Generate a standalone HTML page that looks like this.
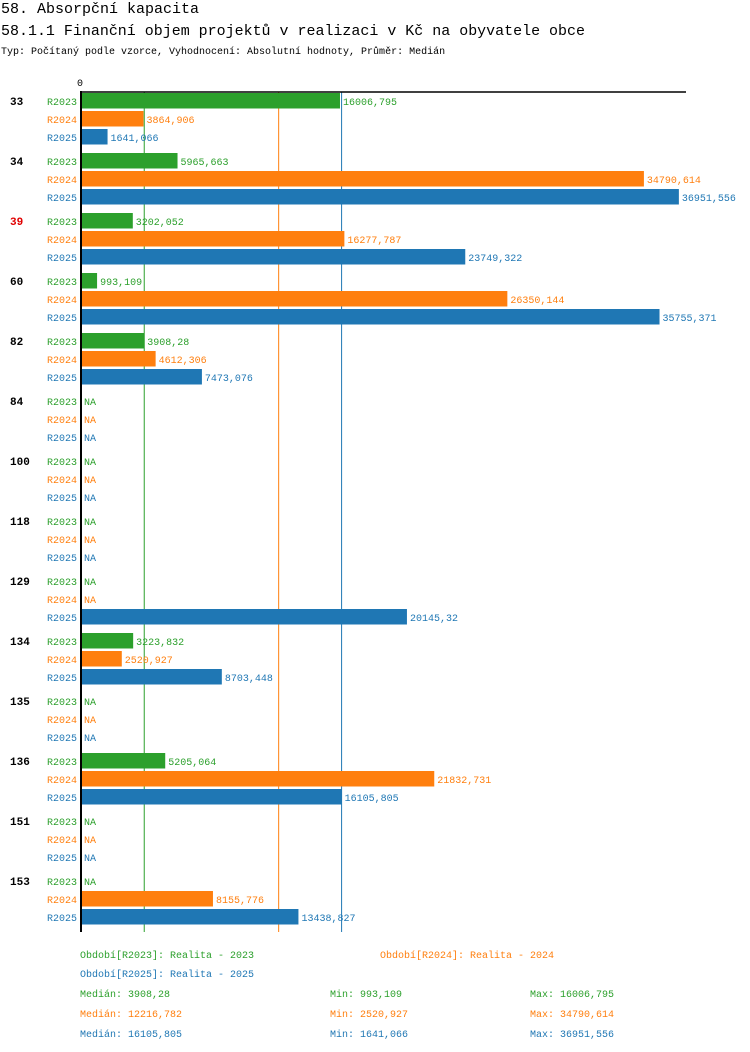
<!DOCTYPE html>
<html><head><meta charset="utf-8"><style>
body{margin:0;background:#fff;width:750px;height:1052px;overflow:hidden}
svg{display:block;font-family:"Liberation Mono","DejaVu Sans Mono",monospace}
</style></head><body>
<svg id="c" width="750" height="1052" xmlns="http://www.w3.org/2000/svg">
<text x="1" y="13" font-size="15">58. Absorpční kapacita</text>
<text x="1" y="35" font-size="15" textLength="584" lengthAdjust="spacingAndGlyphs">58.1.1 Finanční objem projektů v realizaci v Kč na obyvatele obce</text>
<text x="1" y="54" font-size="10">Typ: Počítaný podle vzorce, Vyhodnocení: Absolutní hodnoty, Průměr: Medián</text>
<text x="77" y="86" font-size="10">0</text>
<g id="plot"></g>
</svg>
<script>
const groups=["33","34","39","60","82","84","100","118","129","134","135","136","151","153"];
const seriesNames=["R2023","R2024","R2025"];
const r2023=[16006.795,5965.663,3202.052,993.109,3908.28,null,null,null,null,3223.832,null,5205.064,null,null];
const r2024=[3864.906,34790.614,16277.787,26350.144,4612.306,null,null,null,null,2520.927,null,21832.731,null,8155.776];
const r2025=[1641.066,36951.556,23749.322,35755.371,7473.076,null,null,null,20145.32,8703.448,null,16105.805,null,13438.827];
const medians=[3908.28,12216.782,16105.805];
const mins=[993.109,2520.927,1641.066];
const maxs=[16006.795,34790.614,36951.556];
const legendLabels=["Období[R2023]: Realita - 2023","Období[R2024]: Realita - 2024","Období[R2025]: Realita - 2025"];
const colors=["#2ca02c","#ff7f0e","#1f77b4"];
const NS="http://www.w3.org/2000/svg";
const plot=document.getElementById('plot');
const x=v=>81+v*0.01618;
const gy=i=>92+i*60;
const fmt=v=>String(v).replace('.',',');
function mk(tag,attrs,txt){const e=document.createElementNS(NS,tag);for(const k in attrs)e.setAttribute(k,attrs[k]);if(txt!=null)e.textContent=txt;plot.appendChild(e);return e;}
const series=[r2023,r2024,r2025];
medians.forEach((m,s)=>{const l=mk('line',{x1:x(m),x2:x(m),y1:92,y2:932,stroke:colors[s],'stroke-width':1});

});
groups.forEach((g,i)=>{
  const t=mk('text',{x:10,y:gy(i)+13,'font-size':11,'font-weight':'bold',fill:g==="39"?"#e00000":"#000"},g);
  
  
  series.forEach((arr,s)=>{
    const y=gy(i)+1+s*18;
    const lab=mk('text',{x:77,y:y+12,'font-size':10,'text-anchor':'end',fill:colors[s]},seriesNames[s]);
    
    
    const v=arr[i];
    if(v==null){
      const na=mk('text',{x:84,y:y+12,'font-size':10,fill:colors[s]},'NA');
      
      
    }else{
      const b=mk('rect',{x:81,y:y,width:x(v)-81,height:15.5,fill:colors[s]});
      
      
      const vl=mk('text',{x:x(v)+3,y:y+12,'font-size':10,fill:colors[s]},fmt(v));
      
      
    }
  });
});
const ax=mk('line',{x1:81,x2:81,y1:91,y2:932,stroke:'#000','stroke-width':2});


const tx=mk('line',{x1:80,x2:686,y1:92,y2:92,stroke:'#000','stroke-width':1.5});


const lp=[[80,958],[380,958],[80,977]];
legendLabels.forEach((l,s)=>{const e=mk('text',{x:lp[s][0],y:lp[s][1],'font-size':10,fill:colors[s]},l);

});
[0,1,2].forEach(s=>{const y=997+s*20;
  const a=mk('text',{x:80,y:y,'font-size':10,fill:colors[s]},'Medián: '+fmt(medians[s]));
  
  
  const b=mk('text',{x:330,y:y,'font-size':10,fill:colors[s]},'Min: '+fmt(mins[s]));
  
  
  const c=mk('text',{x:530,y:y,'font-size':10,fill:colors[s]},'Max: '+fmt(maxs[s]));
  
  
});
</script>
</body></html>
